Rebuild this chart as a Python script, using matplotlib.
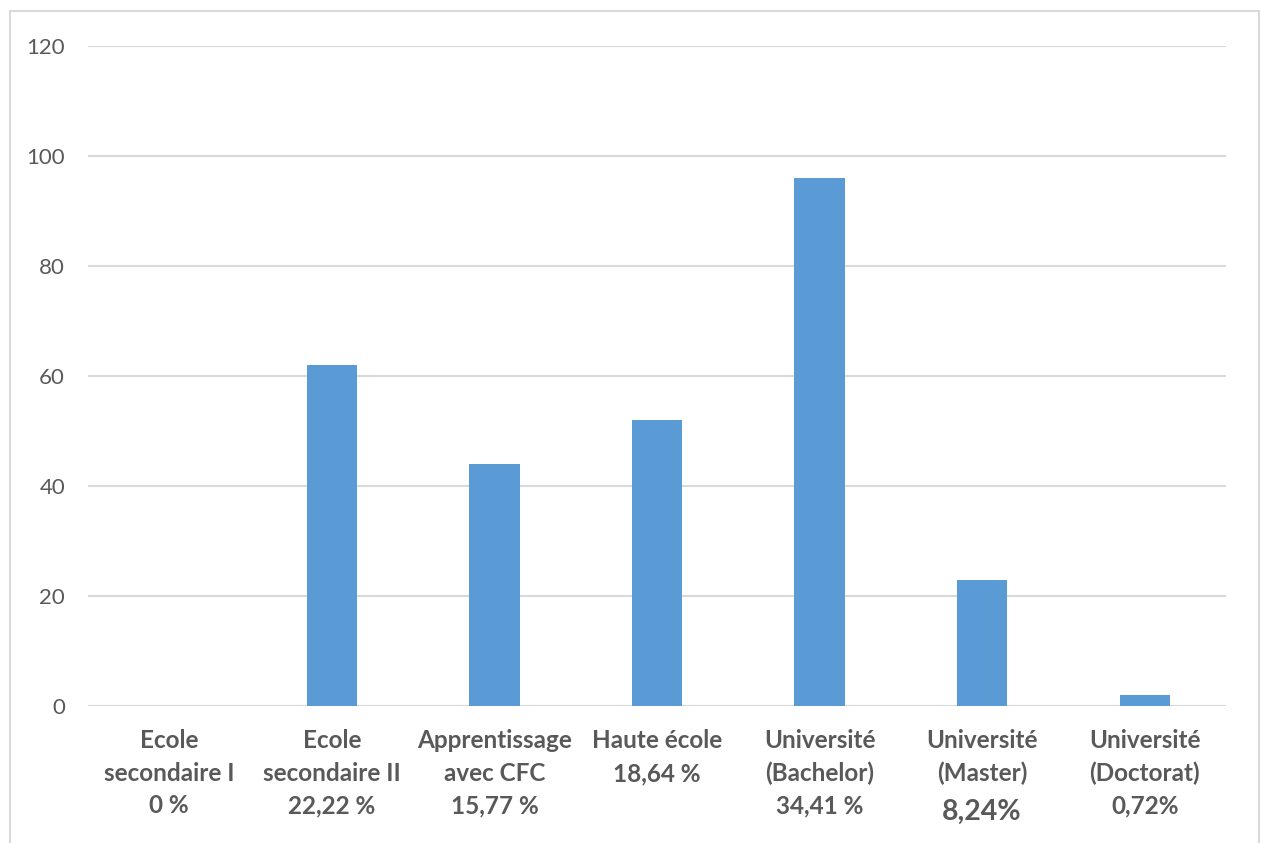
import matplotlib.pyplot as plt
from matplotlib.patches import Rectangle

plt.rcParams['font.family'] = ['Lato', 'DejaVu Sans']

# Répartition par niveau de formation
categories = ['Ecole\nsecondaire I', 'Ecole\nsecondaire II', 'Apprentissage\navec CFC',
              'Haute école', 'Université\n(Bachelor)', 'Université\n(Master)',
              'Université\n(Doctorat)']
counts = [0, 62, 44, 52, 96, 23, 2]
shares = ['0 %', '22,22 %', '15,77 %', '18,64 %', '34,41 %', '8,24%', '0,72%']
yticks = [0, 20, 40, 60, 80, 100, 120]

grey = '#595959'
W, H = 1262, 843

fig = plt.figure(figsize=(W / 100, H / 100), dpi=100)
ax = fig.add_axes([88 / W, 1 - 706 / H, (1226 - 88) / W, (706 - 46) / H])

x = range(len(categories))
ax.bar(x, counts, width=0.31, color='#5b9bd5', zorder=2)

ax.set_xlim(-0.5, len(categories) - 0.5)
ax.set_ylim(0, 120)
ax.set_yticks(yticks)
ax.set_yticklabels([str(t) for t in yticks], fontsize=16, color=grey)
ax.tick_params(axis='y', length=0, pad=16.5)
ax.set_xticks([])
ax.grid(axis='y', color='#d9d9d9', linewidth=1.5, zorder=0)
for s in ax.spines.values():
    s.set_visible(False)

# category names and shares, one line at a time under the axis
line_offsets = [-42, -75, -107]
for i, (name, share) in enumerate(zip(categories, shares)):
    lines = name.split('\n')
    for j, line in enumerate(lines):
        ax.annotate(line, (i, 0), xycoords=('data', 'axes fraction'),
                    xytext=(0, line_offsets[j]), textcoords='offset pixels',
                    ha='center', va='baseline', fontsize=17.5,
                    fontweight='bold', color=grey)
    big = share == '8,24%'
    dy = line_offsets[len(lines)] - (7 if big else 0)
    ax.annotate(share, (i, 0), xycoords=('data', 'axes fraction'),
                xytext=(0, dy), textcoords='offset pixels',
                ha='center', va='baseline', fontsize=20.5 if big else 17.5,
                fontweight='bold', color=grey)

# chart frame, open at the bottom edge
fig.add_artist(Rectangle((10 / W, -0.1), (1259 - 10) / W, 1.1 - 11 / H,
                         transform=fig.transFigure, fill=False,
                         edgecolor='#d9d9d9', linewidth=1.5))

fig.savefig('out.png', dpi=100)
